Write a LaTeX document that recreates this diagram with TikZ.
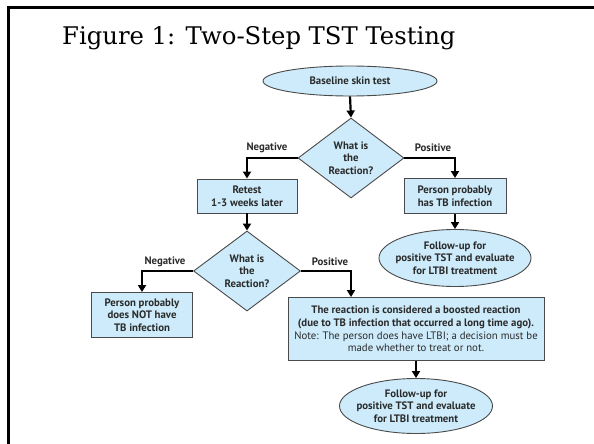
\documentclass[tikz,border=0pt]{standalone}
\usepackage{fontspec}
\setmainfont{DejaVu Serif}
\setsansfont{PT Sans}
\usetikzlibrary{shapes.geometric,arrows.meta}
\definecolor{boxfill}{HTML}{CDEBFA}
\definecolor{boxline}{HTML}{4A4A4A}
\definecolor{txt}{HTML}{2B2B2B}
\tikzset{
  base/.style={fill=boxfill,draw=boxline,line width=0.9pt,text=txt,
    font=\sffamily\bfseries\fontsize{10.8}{12.6}\selectfont,align=center,inner sep=0pt},
  ell/.style={base,ellipse,inner xsep=-6pt},
  rbox/.style={base,rectangle},
  dia/.style={base,diamond,aspect=1.33},
  arr/.style={line width=2.2pt,-{Triangle[length=7pt,width=8pt]}},
  lab/.style={text=txt,font=\sffamily\bfseries\fontsize{10.8}{12}\selectfont}
}
\begin{document}
\begin{tikzpicture}[x=1pt,y=-1pt]
\useasboundingbox (0,0) rectangle (594,444);
\draw[line width=3pt] (8,444) -- (8,8) -- (594,8);
\node[anchor=base west,inner sep=0pt,font=\fontsize{24.3}{28}\selectfont] (title) at (62,45) {Figure 1: Two-Step TST Testing};
% nodes
\node[ell,minimum width=174pt,minimum height=30pt] (bst) at (350,81) {Baseline skin test};
\node[dia,minimum width=106pt,minimum height=80pt] (d1) at (351,158) {What is\\the\\Reaction?};
\node[rbox,minimum width=100pt,minimum height=34pt] (retest) at (247,196) {Retest\\1-3 weeks later};
\node[rbox,minimum width=102pt,minimum height=35pt] (hastb) at (455,196) {Person probably\\has TB infection};
\node[ell,minimum width=152pt,minimum height=57pt] (fu1) at (455,258) {Follow-up for\\positive TST and evaluate\\for LTBI treatment};
\node[dia,minimum width=107pt,minimum height=80pt] (d2) at (247,271) {What is\\the\\Reaction?};
\node[rbox,minimum width=101pt,minimum height=45pt] (nottb) at (142,315) {Person probably\\does NOT have\\TB infection};
\node[rbox,minimum width=256pt,minimum height=63pt] (boost) at (416,329) {The reaction is considered a boosted reaction\\(due to TB infection that occurred a long time ago).\\{\mdseries Note: The person does have LTBI; a decision must be}\\{\mdseries made whether to treat or not.}};
\node[ell,minimum width=153pt,minimum height=55pt] (fu2) at (416,406) {Follow-up for\\positive TST and evaluate\\for LTBI treatment};
% labels
\node[lab] (n1) at (267,148) {Negative};
\node[lab] (p1) at (433,148) {Positive};
\node[lab] (n2) at (165,262) {Negative};
\node[lab] (p2) at (330,262) {Positive};
% connectors
\draw[arr] (bst.south) -- (d1.north);
\draw[arr] (d1.west) -| (retest.north);
\draw[arr] (d1.east) -| (hastb.north);
\draw[arr] (hastb.south) -- (fu1.north);
\draw[arr] (retest.south) -- (d2.north);
\draw[arr] (d2.west) -| (nottb.north);
\draw[arr] (d2.east) -| ([xshift=-65pt]boost.north);
\draw[arr] (boost.south) -- (fu2.north);
\end{tikzpicture}
\end{document}
